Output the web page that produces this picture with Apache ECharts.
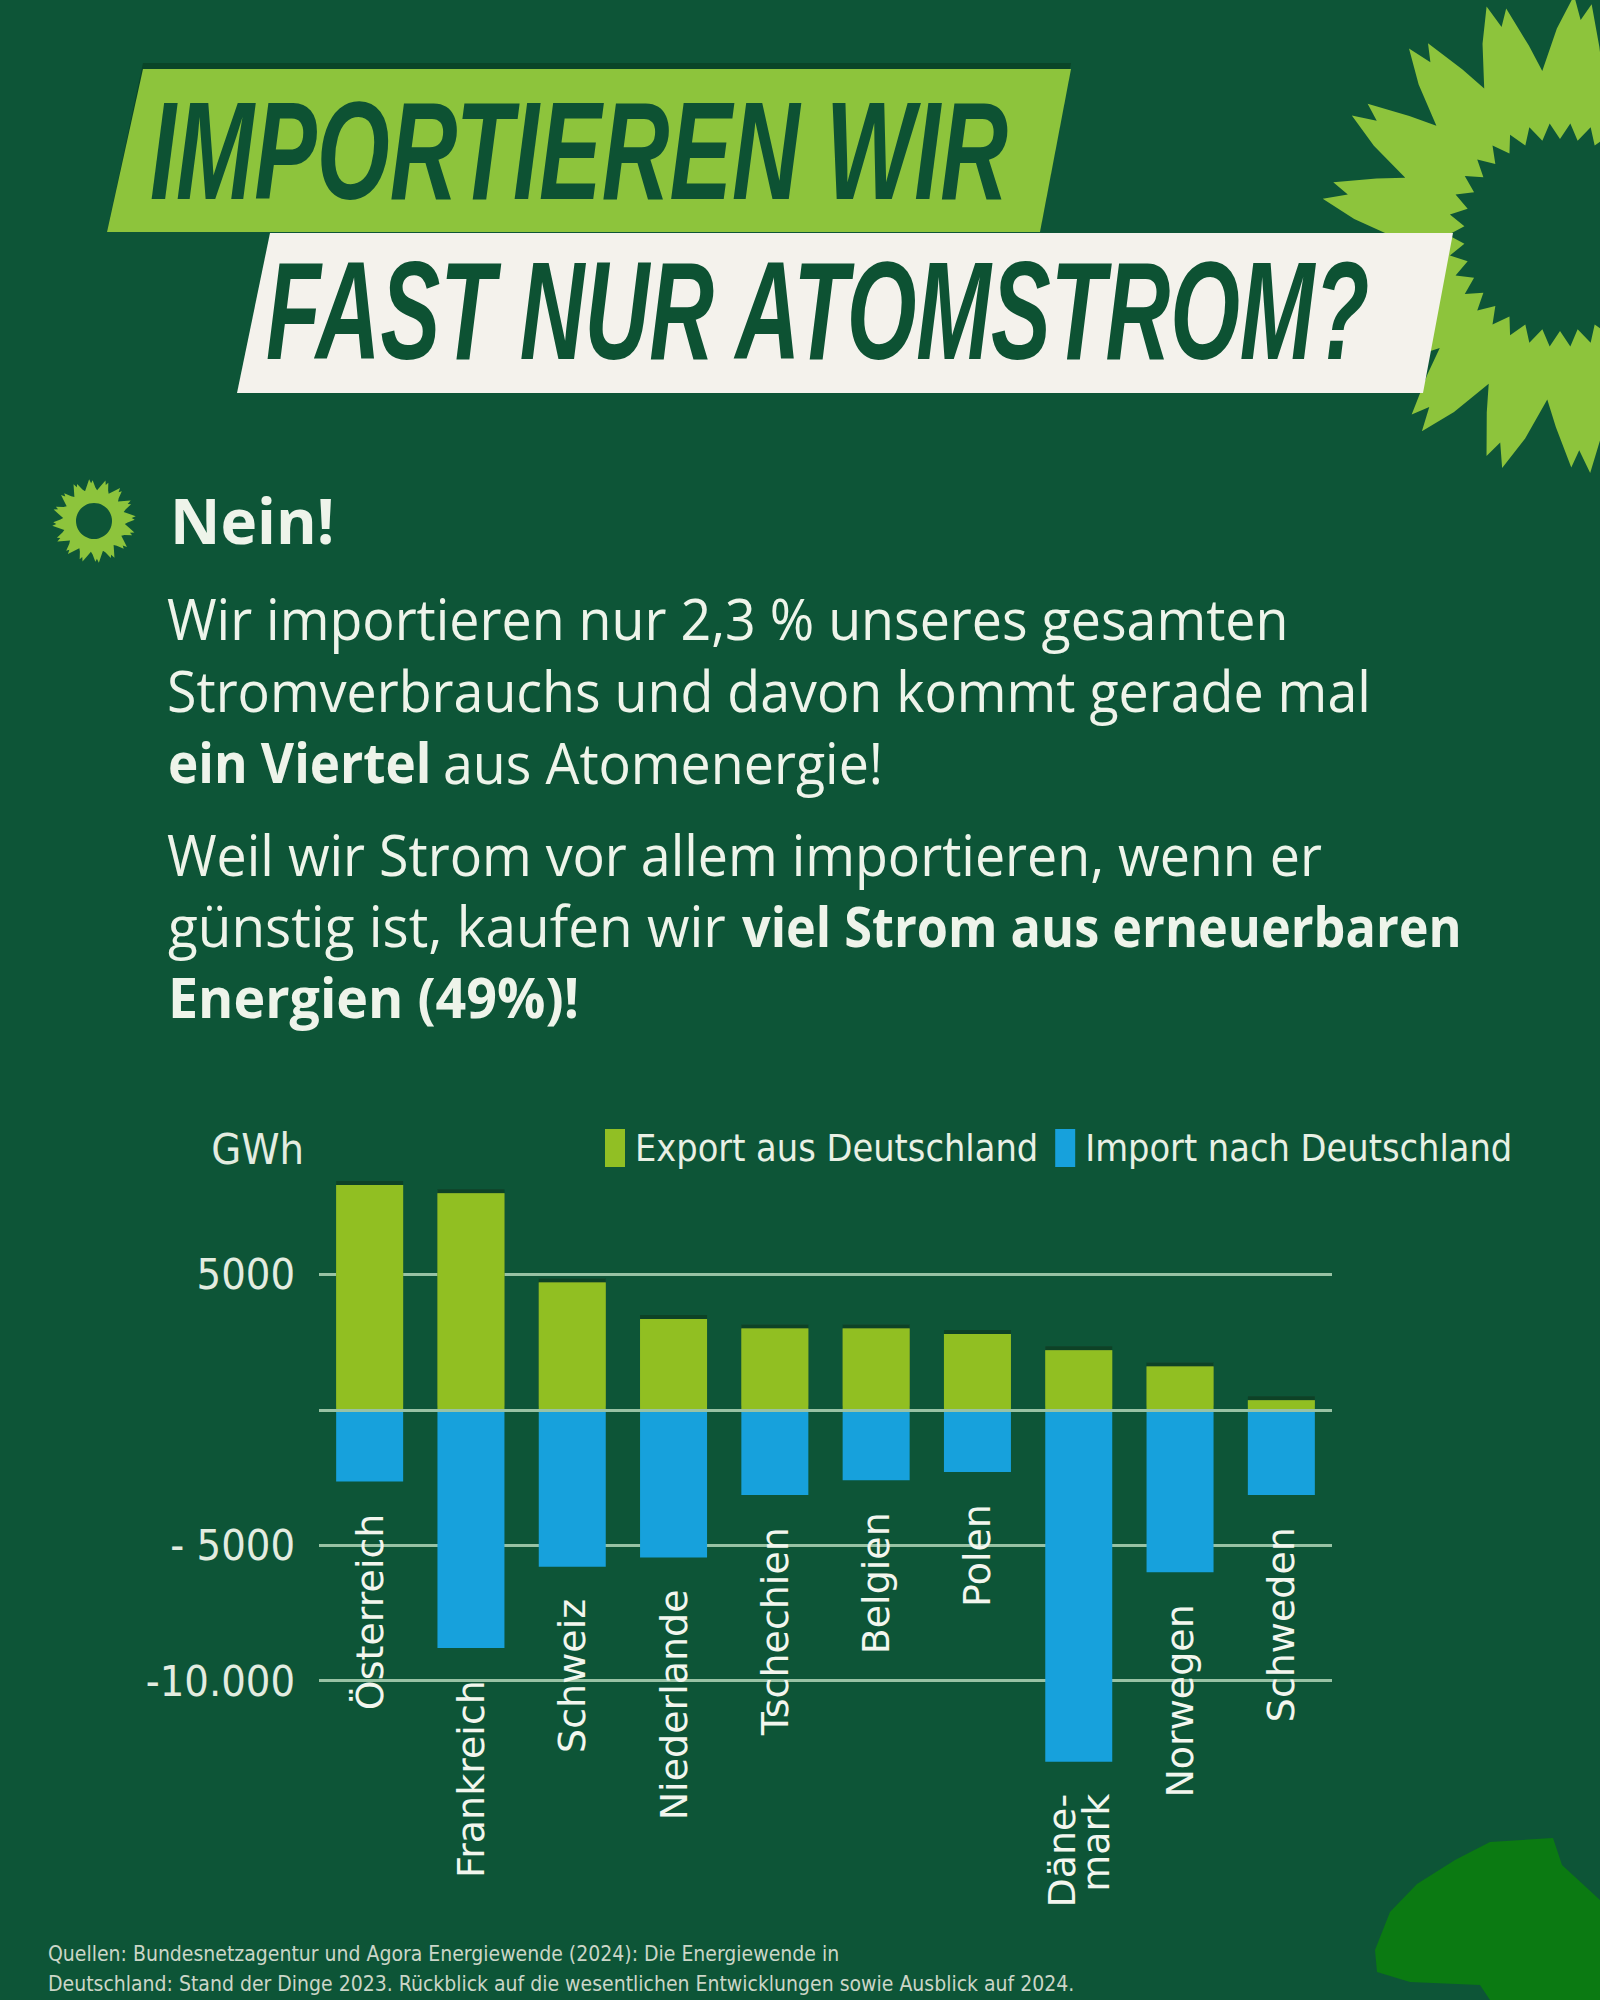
<!DOCTYPE html>
<html><head><meta charset="utf-8">
<script src="https://cdn.jsdelivr.net/npm/echarts@6/dist/echarts.min.js"></script>
<style>html,body{margin:0;padding:0;background:#0d5537;}#c{width:1600px;height:2000px;}</style>
</head><body><div id="c"></div>
<script>
// ---- data ----
const countries = ['Österreich','Frankreich','Schweiz','Niederlande','Tschechien','Belgien','Polen','Dänemark','Norwegen','Schweden'];
const countryLabels = ['Österreich','Frankreich','Schweiz','Niederlande','Tschechien','Belgien','Polen','Däne-\nmark','Norwegen','Schweden'];
const exportValues = [8300, 8000, 4700, 3350, 3000, 3000, 2800, 2200, 1600, 350];
const importValues = [-2650, -8800, -5800, -5450, -3150, -2600, -2300, -13000, -6000, -3150];
const seriesNames = ['Export aus Deutschland', 'Import nach Deutschland'];
const tickValues = [5000, -5000, -10000];
const tickLabels = ['5000', '- 5000', '-10.000'];
const unitLabel = 'GWh';
const titleLines = ['IMPORTIEREN WIR', 'FAST NUR ATOMSTROM?'];
const answer = 'Nein!';
// paragraph segments: [text, bold?]
const paragraphSegments = [
  ['Wir importieren nur 2,3 % unseres gesamten', false],
  ['Stromverbrauchs und davon kommt gerade mal', false],
  ['ein Viertel', true],
  ['aus Atomenergie!', false],
  ['Weil wir Strom vor allem importieren, wenn er', false],
  ['günstig ist, kaufen wir', false],
  ['viel Strom aus erneuerbaren', true],
  ['Energien (49%)!', true]
];
const sourceLines = [
  'Quellen: Bundesnetzagentur und Agora Energiewende (2024): Die Energiewende in',
  'Deutschland: Stand der Dinge 2023. Rückblick auf die wesentlichen Entwicklungen sowie Ausblick auf 2024.'
];

// ---- layout / style ----
const segLayout = [ // x, baseline, scaleX
  [167, 638, 0.96], [167, 710, 0.96], [168, 782, 0.915], [443, 782, 0.96],
  [167, 874, 0.96], [168, 945, 0.98], [742, 945, 0.9], [168, 1016, 0.96]
];
const BG = '#0d5537', LIME = '#8dc43c', DARK = '#0d5233', GRID = '#98c2a4', TXT = '#eef4ea';
const axisMin = -15000, axisMax = 10000, axisStep = 5000;
const splitColors = [];
for (let v = axisMin; v <= axisMax; v += axisStep) {
  splitColors.push(tickValues.indexOf(v) >= 0 ? GRID : 'rgba(0,0,0,0)');
}

function flower(cx, cy, n, rTip, rValley, rot) {
  const pts = [];
  const step = Math.PI * 2 / n;
  for (let i = 0; i < n; i++) {
    const a = rot + i * step;
    pts.push([cx + rValley * Math.cos(a), cy + rValley * Math.sin(a)]);
    pts.push([cx + rTip * 0.86 * Math.cos(a + step * 0.25), cy + rTip * 0.86 * Math.sin(a + step * 0.25)]);
    pts.push([cx + rTip * Math.cos(a + step * 0.45), cy + rTip * Math.sin(a + step * 0.45)]);
    pts.push([cx + rTip * 0.9 * Math.cos(a + step * 0.55), cy + rTip * 0.9 * Math.sin(a + step * 0.55)]);
    pts.push([cx + rTip * 0.97 * Math.cos(a + step * 0.66), cy + rTip * 0.97 * Math.sin(a + step * 0.66)]);
    pts.push([cx + rTip * 0.8 * Math.cos(a + step * 0.85), cy + rTip * 0.8 * Math.sin(a + step * 0.85)]);
  }
  return pts;
}
function disc(cx, cy, n, rOut, rIn) {
  const pts = [];
  const step = Math.PI * 2 / n;
  for (let i = 0; i < n; i++) {
    const a = i * step;
    pts.push([cx + rOut * Math.cos(a), cy + rOut * Math.sin(a)]);
    pts.push([cx + rIn * Math.cos(a + step / 2), cy + rIn * Math.sin(a + step / 2)]);
  }
  return pts;
}

const graphics = [
  // big sunflower
  { type: 'polygon', shape: { points: flower(1560, 235, 17, 240, 165, -0.2) }, style: { fill: LIME }, z: 1 },
  { type: 'polygon', shape: { points: disc(1560, 235, 34, 112, 96) }, style: { fill: BG }, z: 1 },
  // title plates
  { type: 'polygon', shape: { points: [[143, 63], [1071, 63], [1040, 232], [107, 232]] }, style: { fill: '#0a4528' }, z: 2 },
  { type: 'polygon', shape: { points: [[143, 69], [1071, 69], [1040, 232], [107, 232]] }, style: { fill: LIME }, z: 2 },
  { type: 'polygon', shape: { points: [[270, 233], [1453, 233], [1423, 393], [237, 393]] }, style: { fill: '#f4f2ec' }, z: 2 },
  { type: 'text', x: 150, y: 150, scaleX: 0.67, z: 3,
    style: { text: titleLines[0], fill: DARK, fontFamily: 'Liberation Sans', fontWeight: 'bold', fontStyle: 'italic', fontSize: 140, align: 'left', verticalAlign: 'middle' } },
  { type: 'text', x: 266, y: 311, scaleX: 0.64, z: 3,
    style: { text: titleLines[1], fill: DARK, fontFamily: 'Liberation Sans', fontWeight: 'bold', fontStyle: 'italic', fontSize: 140, align: 'left', verticalAlign: 'middle' } },
  // small logo
  { type: 'polygon', shape: { points: flower(94, 521, 16, 42, 31, 0.1) }, style: { fill: LIME }, z: 2 },
  { type: 'circle', shape: { cx: 94, cy: 521, r: 18 }, style: { fill: BG }, z: 2 },
  { type: 'text', x: 170, y: 520, z: 3,
    style: { text: answer, fill: TXT, fontFamily: 'Open Sans', fontWeight: 'bold', fontSize: 62, align: 'left', verticalAlign: 'middle' } },
  // blob bottom right
  { type: 'polygon', shape: { points: [[1490, 2000], [1480, 1985], [1410, 1982], [1377, 1972], [1375, 1950], [1390, 1912], [1417, 1884], [1455, 1860], [1490, 1842], [1553, 1838], [1562, 1865], [1600, 1900], [1600, 2000]] }, style: { fill: '#0b7a12' }, z: 1 }
];
paragraphSegments.forEach((seg, i) => {
  const L = segLayout[i];
  graphics.push({ type: 'text', x: L[0], y: L[1] - 20, z: 3, scaleX: L[2],
    style: { text: seg[0], fill: TXT, fontFamily: 'Open Sans', fontSize: 56, fontWeight: seg[1] ? 'bold' : 'normal',
      align: 'left', verticalAlign: 'middle' } });
});
sourceLines.forEach((t, i) => {
  graphics.push({ type: 'text', x: 48, y: [1954, 1984][i], z: 3,
    style: { text: t, fill: '#cbd6c8', fontFamily: 'DejaVu Sans Condensed', fontSize: 21, align: 'left', verticalAlign: 'middle' } });
});

const chart = echarts.init(document.getElementById('c'), null, { renderer: 'svg', width: 1600, height: 2000 });
chart.setOption({
  backgroundColor: BG,
  animation: false,
  graphic: graphics,
  legend: {
    data: seriesNames, left: 600, top: 1124, icon: 'rect', itemWidth: 20, itemHeight: 38, itemGap: 17,
    selectedMode: false,
    textStyle: { color: '#e8f0e4', fontFamily: 'DejaVu Sans Condensed', fontSize: 37.5, padding: [0, 0, 0, 5] }
  },
  grid: { left: 319, right: 268, top: 1139, bottom: 184, containLabel: false },
  xAxis: {
    type: 'category', data: countries,
    axisLine: { show: false }, axisTick: { show: false }, axisLabel: { show: false }, splitLine: { show: false }
  },
  yAxis: {
    type: 'value', min: axisMin, max: axisMax, interval: axisStep,
    name: unitLabel, nameLocation: 'end', nameGap: -10,
    nameTextStyle: { color: '#e3ece0', fontFamily: 'DejaVu Sans Condensed', fontSize: 43, align: 'right', verticalAlign: 'middle', padding: [0, 15, 0, 0] },
    axisLine: { show: false }, axisTick: { show: false },
    axisLabel: {
      margin: 24, color: '#e3ece0', fontFamily: 'DejaVu Sans Condensed', fontSize: 43,
      formatter: v => { const k = tickValues.indexOf(v); return k >= 0 ? tickLabels[k] : ''; }
    },
    splitLine: { show: true, lineStyle: { color: splitColors, width: 3 } }
  },
  series: [
    { name: seriesNames[0], type: 'bar', stack: 'total', data: exportValues, barWidth: 67,
      itemStyle: { color: '#91bf24', shadowColor: '#0a4226', shadowOffsetY: -4, shadowBlur: 0 } },
    { name: seriesNames[1], type: 'bar', stack: 'total', data: importValues, barWidth: 67,
      itemStyle: { color: '#17a1dc' },
      label: { show: true, position: 'bottom', distance: 32, rotate: 90, align: 'right', verticalAlign: 'middle',
        formatter: p => countryLabels[p.dataIndex], color: '#f2f6ee', fontFamily: 'DejaVu Sans', fontSize: 38, lineHeight: 34 },
      markLine: { silent: true, symbol: 'none', label: { show: false }, lineStyle: { color: GRID, width: 3, type: 'solid' },
        data: [{ yAxis: 0 }] } }
  ]
});
</script></body></html>
